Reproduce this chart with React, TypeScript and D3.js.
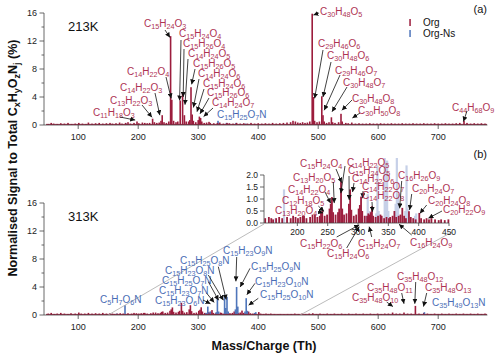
import React, { useEffect, useRef } from 'react';
import * as d3 from 'd3';

const W = 500, H = 358;
const RED = '#9c1d3d';
const RED_TXT = '#ae3353';
const BLUE = '#4f76bb';
const BLUE_TXT = '#4a6db5';
const PALE = '#c6d0e8';

// 213K spectrum, [mass/charge (Th), % of total signal]
const topOrg: [number, number][] = [
  [50, 0.15], [55, 0.3], [59, 0.2], [65, 0.15], [71, 0.25], [77, 0.2], [83, 0.3], [89, 0.15], [95, 0.2],
  [101, 0.3], [107, 0.2], [113, 0.15], [117, 0.35], [123, 0.2], [129, 0.25], [135, 0.3], [141, 0.2],
  [147, 0.25], [153, 0.3], [157, 0.2], [163, 0.25], [169, 0.35], [173, 0.2], [179, 0.3], [183, 0.4],
  [187, 0.2], [193, 0.3], [198, 0.5], [201, 0.25], [207, 0.35], [211, 0.3], [215, 0.25], [219, 0.3],
  [224, 0.9], [227, 0.4], [231, 0.3], [235, 0.35], [238, 0.6], [240, 1.4], [243, 0.4], [247, 0.3],
  [251, 0.5], [254, 12.7], [256, 3.6], [259, 0.6], [263, 0.4], [266, 0.5], [270, 3.5], [274, 4.6],
  [277, 1.4], [280, 0.5], [284, 0.5], [286, 0.7], [288, 5.4], [290, 1.5], [292, 0.6], [296, 0.4],
  [300, 0.7], [302, 1.2], [304, 1.0], [306, 0.5], [310, 0.3], [314, 0.35], [318, 0.45], [320, 0.3],
  [326, 0.25], [332, 0.3], [336, 0.35], [342, 0.2], [348, 0.3], [352, 0.25], [358, 0.2], [364, 0.3],
  [370, 0.2], [376, 0.25], [382, 0.2], [388, 0.3], [394, 0.2], [400, 0.25], [406, 0.2], [412, 0.25],
  [418, 0.2], [424, 0.3], [430, 0.2], [436, 0.25], [442, 0.3], [448, 0.35], [454, 0.4], [458, 0.6],
  [462, 0.5], [466, 0.35], [470, 0.3], [474, 0.4], [478, 0.3], [482, 0.35], [486, 0.5], [490, 15.9],
  [492, 4.0], [494, 0.6], [498, 0.4], [502, 0.5], [506, 4.1], [508, 1.4], [510, 0.5], [514, 0.3],
  [518, 0.4], [522, 1.1], [524, 0.4], [528, 0.3], [534, 0.4], [538, 1.6], [540, 0.5], [546, 0.3],
  [550, 0.25], [556, 0.35], [562, 0.2], [568, 0.25], [574, 0.2], [580, 0.2], [586, 0.25], [592, 0.2],
  [598, 0.2], [604, 0.25], [610, 0.2], [616, 0.2], [622, 0.25], [628, 0.2], [634, 0.2], [640, 0.25],
  [646, 0.2], [652, 0.2], [658, 0.25], [664, 0.2], [670, 0.2], [676, 0.25], [682, 0.2], [688, 0.2],
  [694, 0.25], [700, 0.2], [706, 0.2], [712, 0.25], [718, 0.2], [724, 0.2], [730, 0.25], [736, 0.3],
  [743, 0.6], [748, 0.3], [754, 0.2], [760, 0.25], [766, 0.2], [772, 0.25], [778, 0.2],
];
const topOrgN: [number, number][] = [
  [180, 0.2], [333, 0.6], [335, 0.3], [347, 0.3], [349, 0.2], [363, 0.3], [379, 0.2],
];

// 313K spectrum
const botOrg: [number, number][] = [
  [50, 0.2], [55, 0.3], [60, 0.15], [65, 0.2], [71, 0.3], [77, 0.2], [83, 0.15], [88, 0.25], [95, 0.2],
  [101, 0.35], [105, 0.2], [111, 0.2], [117, 0.3], [123, 0.2], [129, 0.25], [135, 0.2], [141, 0.3],
  [147, 0.2], [153, 0.25], [157, 0.2], [160, 0.15], [165, 0.2], [170, 0.25], [175, 0.2], [183, 0.25],
  [189, 0.2], [193, 0.3], [197, 0.25], [201, 0.2], [205, 0.25], [209, 0.3], [211, 0.3], [215, 0.2],
  [221, 0.25], [225, 0.35], [229, 0.35], [233, 0.25], [237, 0.3], [239, 0.45], [241, 0.5], [245, 0.3],
  [249, 0.35], [253, 0.6], [255, 0.8], [257, 1.08], [259, 0.45], [263, 0.35], [267, 0.45], [269, 0.6],
  [272, 1.73], [274, 0.6], [277, 0.35], [281, 0.4], [285, 0.8], [287, 1.4], [289, 0.55], [293, 0.3],
  [297, 0.35], [301, 0.6], [303, 0.75], [305, 1.1], [307, 0.5], [311, 0.3], [315, 0.3], [317, 0.4],
  [319, 0.35], [321, 0.45], [323, 0.7], [325, 0.3], [329, 0.25], [333, 0.3], [337, 0.35], [339, 0.3],
  [343, 0.2], [347, 0.25], [351, 0.2], [353, 0.25], [357, 0.3], [360, 0.5], [363, 0.25], [367, 0.3],
  [370, 0.35], [373, 0.63], [376, 0.3], [379, 0.2], [384, 0.49], [387, 0.25], [391, 0.2], [395, 0.15],
  [401, 0.42], [404, 0.2], [409, 0.15], [413, 0.2], [417, 0.15], [421, 0.2], [427, 0.15], [433, 0.12],
  [437, 0.15], [443, 0.12], [449, 0.15], [455, 0.15], [461, 0.2], [467, 0.15], [473, 0.2], [479, 0.15],
  [485, 0.2], [491, 0.25], [497, 0.15], [503, 0.2], [509, 0.15], [515, 0.2], [521, 0.15], [527, 0.2],
  [533, 0.15], [539, 0.2], [545, 0.15], [551, 0.2], [557, 0.15], [563, 0.2], [569, 0.15], [575, 0.2],
  [581, 0.15], [587, 0.2], [593, 0.15], [599, 0.2], [605, 0.15], [611, 0.2], [617, 0.2], [624, 0.35],
  [630, 0.2], [636, 0.2], [643, 0.35], [649, 0.2], [655, 0.2], [662, 1.3], [668, 0.2], [676, 0.3],
  [682, 0.2], [688, 0.15], [694, 0.2], [700, 0.15], [706, 0.2], [712, 0.15], [718, 0.2], [724, 0.15],
  [730, 0.2], [736, 0.15], [742, 0.2], [748, 0.15], [754, 0.2], [760, 0.15], [766, 0.2], [772, 0.15],
  [778, 0.2],
];
const botOrgN: [number, number][] = [
  [164, 0.2], [178, 1.4], [313, 0.3], [316, 1.2], [320, 0.5], [330, 0.4], [332, 2.4], [334, 0.5],
  [344, 2.9], [346, 1.0], [348, 2.6], [350, 0.5], [362, 0.8], [364, 4.0], [366, 1.2], [378, 0.5],
  [380, 2.4], [382, 0.6], [394, 0.3], [396, 0.4], [677, 0.4],
];

const yTicks = [0, 4, 8, 12, 16];
const yMinor = [2, 6, 10, 14];
const xTicks = [100, 200, 300, 400, 500, 600, 700];
const inYTicks = [0, 0.5, 1, 1.5, 2];
const inXTicks = [200, 250, 300, 350, 400, 450];

// [formula, arrow tip mass, arrow tip value] (tip mass null -> no arrow)
type Lab = [string, number | null, number];
const topLabels: Lab[] = [
  ['C15H24O3', 253, 12.5], ['C15H24O4', 269, 3.5], ['C15H26O4', 275, 4.0], ['C14H24O5', 278, 2.9],
  ['C15H26O5', 289, 5.8], ['C14H24O6', 292, 2.5], ['C15H24O6', 298, 1.9], ['C15H26O6', 303, 1.6],
  ['C14H24O7', 309, 1.2], ['C15H25O7N', null, 0], ['C14H22O4', 255, 3.8], ['C14H22O3', 236, 1.4],
  ['C13H22O3', 223, 1.1], ['C11H18O3', 195, 0.7], ['C30H48O5', 492, 15.7], ['C29H46O6', 494, 3.8],
  ['C30H48O6', 508, 4.0], ['C29H46O7', 510, 2.1], ['C30H48O7', 523, 1.9], ['C30H48O8', 539.5, 2.1],
  ['C30H50O8', 557, 1.0], ['C44H68O9', 742, 0.5],
];
const botLabels: Lab[] = [
  ['C5H7O6N', null, 0], ['C15H23O6N', 320.5, 1.6], ['C15H23O7N', 326.7, 1.8], ['C15H25O7N', 334, 2.1],
  ['C15H23O8N', 342, 2.1], ['C15H25O8N', 346.7, 2.2], ['C15H23O9N', 362.8, 4.8], ['C15H25O9N', 370, 4.0],
  ['C15H23O10N', 381, 2.9], ['C15H25O10N', 384, 1.4], ['C35H48O12', 661, 1.6], ['C35H48O11', 643, 1.6],
  ['C35H48O13', 675.5, 1.2], ['C35H48O10', 624.5, 1.2], ['C35H49O13N', null, 0],
];
const insetLabels: Lab[] = [
  ['C15H24O4', 273, 1.68], ['C14H22O5', 271.7, 1.24], ['C15H24O5', 285.5, 0.96], ['C13H20O5', 260.8, 0.83],
  ['C14H22O6', 291, 1.29], ['C14H22O4', 255, 0.82], ['C14H22O7', 307.7, 1.03], ['C12H18O5', 244, 0.48],
  ['C14H22O8', 324, 0.47], ['C13H20O4', 242.5, 0.42], ['C16H26O9', 368.6, 0.61], ['C20H24O7', 385, 0.54],
  ['C20H24O8', 402, 0.4], ['C20H22O9', 416, 0.2], ['C15H22O6', 302, -0.08], ['C15H24O7', 318.4, -0.15],
  ['C16H24O9', 367.6, -0.05], ['C15H24O6', 302, -0.15],
];

// label layout: text x, baseline y, arrow start x, arrow start y
const topPos: Record<string, number[]> = {
  C15H24O3: [144, 27, 165, 30], C15H24O4: [179, 37, 181, 40], C15H26O4: [183, 47, 184, 49],
  C14H24O5: [188, 57, 188, 59], C15H26O5: [193, 67, 195, 69], C14H24O6: [198, 77, 199, 79],
  C15H24O6: [203, 87, 204, 89], C15H26O6: [207, 96, 209, 98], C14H24O7: [212, 106, 213, 108],
  C15H25O7N: [217, 118, 0, 0], C14H22O4: [127, 75, 166, 77], C14H22O3: [120, 91, 155, 93],
  C13H22O3: [110, 104, 142, 105], C11H18O3: [93, 115.5, 120, 117], C30H48O5: [320, 15, 319, 13],
  C29H46O6: [318, 47, 323, 50], C30H48O6: [327, 59, 331, 62], C29H46O7: [335, 74, 340, 75],
  C30H48O7: [343, 86, 347, 87], C30H48O8: [352, 102, 352, 100], C30H50O8: [358, 114, 360, 113],
  C44H68O9: [452, 111, 467, 111],
};
const botPos: Record<string, number[]> = {
  C5H7O6N: [100, 303, 0, 0], C15H23O6N: [155, 304, 203, 300], C15H23O7N: [159, 294, 206.7, 293.3],
  C15H25O7N: [162, 284, 208.3, 281.7], C15H23O8N: [165, 274, 208.3, 275], C15H25O8N: [180, 264, 218.3, 266.7],
  C15H23O9N: [223, 254, 236.7, 257], C15H25O9N: [251, 270, 250, 268.3], C15H23O10N: [255, 285, 255, 283.3],
  C15H25O10N: [260, 298, 258.3, 298.3], C35H48O12: [397, 280, 415.7, 282], C35H48O11: [367, 291, 401.7, 293],
  C35H48O13: [425, 291, 426.7, 293], C35H48O10: [352, 301, 386.7, 302], C35H49O13N: [432, 306, 0, 0],
};
const insetPos: Record<string, number[]> = {
  C15H24O4: [300, 166.5, 336, 169], C14H22O5: [347, 165.5, 345, 166], C15H24O5: [348, 173.5, 349, 176],
  C13H20O5: [293, 180.5, 333.3, 182], C14H22O6: [352, 181.5, 354, 183], C14H22O4: [288, 192.5, 325, 192],
  C14H22O7: [362, 190, 363, 191], C12H18O5: [282, 203.5, 318.3, 206], C14H22O8: [362, 198.5, 372, 202],
  C13H20O4: [275, 213.5, 318, 211.5], C16H26O9: [398, 178.5, 401.7, 181], C20H24O7: [412, 191.5, 411.7, 194],
  C20H24O8: [428, 203.5, 426.7, 205], C20H22O9: [443, 212.5, 442, 211], C15H22O6: [300, 246.5, 336.7, 237],
  C15H24O7: [358, 246.5, 371.7, 237], C16H24O9: [410, 245.5, 411.7, 235], C15H24O6: [327, 256.5, 346.7, 248],
};

function formula(g: any, s: string, x: number, y: number, color: string, size = 10) {
  const t = g.append('text').attr('x', x).attr('y', y).attr('fill', color).style('font-size', size + 'px');
  const parts = s.match(/[A-Z][a-z]?|\d+/g) || [];
  let sub = false;
  parts.forEach((p) => {
    const num = /\d/.test(p);
    const ts = t.append('tspan').text(p);
    if (num) {
      ts.style('font-size', size * 0.72 + 'px');
      if (!sub) { ts.attr('dy', 2.2); sub = true; }
    } else if (sub) {
      ts.attr('dy', -2.2); sub = false;
    }
  });
}

export default function App() {
  const ref = useRef<SVGSVGElement>(null);

  useEffect(() => {
    const svg = d3.select(ref.current);
    svg.selectAll('*').remove();

    const xMain = d3.scaleLinear().domain([43, 782]).range([44, 487.4]);
    const yTop = d3.scaleLinear().domain([0, 16]).range([125, 13]);
    const yBot = d3.scaleLinear().domain([0, 16]).range([315, 203]);
    const xIn = d3.scaleLinear().domain([145, 450]).range([264, 449]);
    const yIn = d3.scaleLinear().domain([0, 2]).range([223, 175]);

    const defs = svg.append('defs');
    defs.append('marker').attr('id', 'ah').attr('viewBox', '0 0 10 10').attr('refX', 10).attr('refY', 5)
      .attr('markerWidth', 5).attr('markerHeight', 5).attr('markerUnits', 'userSpaceOnUse').attr('orient', 'auto')
      .append('path').attr('d', 'M0,0 L10,5 L0,10 z').attr('fill', '#111');
    defs.append('clipPath').attr('id', 'inclip').append('rect')
      .attr('x', 264).attr('y', 158).attr('width', 186).attr('height', 65);

    const bars = (g: any, data: [number, number][], xs: any, ys: any, color: string, w = 1.6) => {
      g.selectAll(null).data(data).enter().append('rect')
        .attr('x', (d: any) => xs(d[0]) - w / 2).attr('width', w)
        .attr('y', (d: any) => ys(d[1])).attr('height', (d: any) => ys(0) - ys(d[1]))
        .attr('fill', color);
    };

    const axes = (ys: any) => {
      const g = svg.append('g').attr('stroke', '#444').attr('stroke-width', 0.8);
      const [y0, y1] = ys.range();
      g.append('line').attr('x1', 44).attr('x2', 44).attr('y1', y0).attr('y2', y1);
      g.append('line').attr('x1', 44).attr('x2', 487.4).attr('y1', y0).attr('y2', y0);
      yTicks.forEach((t) => g.append('line').attr('x1', 39.5).attr('x2', 44).attr('y1', ys(t)).attr('y2', ys(t)));
      yMinor.forEach((t) => g.append('line').attr('x1', 41.5).attr('x2', 44).attr('y1', ys(t)).attr('y2', ys(t)));
      xTicks.forEach((t) => g.append('line').attr('x1', xMain(t)).attr('x2', xMain(t)).attr('y1', y0).attr('y2', y0 + 4));
      const tg = svg.append('g').attr('fill', '#222').style('font-size', '9px');
      yTicks.forEach((t) => tg.append('text').attr('x', 37).attr('y', ys(t) + 3.2).attr('text-anchor', 'end').text(t));
      xTicks.forEach((t) => tg.append('text').attr('x', xMain(t)).attr('y', y0 + 15).attr('text-anchor', 'middle').text(t));
    };

    // top panel (213K)
    const gTop = svg.append('g');
    bars(gTop, topOrgN, xMain, yTop, BLUE);
    bars(gTop, topOrg, xMain, yTop, RED);
    axes(yTop);
    gTop.append('line').attr('x1', 46).attr('x2', 487).attr('y1', 124.4).attr('y2', 124.4).attr('stroke', RED).attr('stroke-width', 1);

    // bottom panel (313K)
    const gBot = svg.append('g');
    bars(gBot, botOrg, xMain, yBot, RED);
    bars(gBot, botOrgN, xMain, yBot, BLUE);
    axes(yBot);
    gBot.append('line').attr('x1', 46).attr('x2', 487).attr('y1', 314.4).attr('y2', 314.4).attr('stroke', RED).attr('stroke-width', 1);

    // zoom lines to the inset
    const zl = svg.append('g').attr('stroke', '#aaa').attr('stroke-width', 0.8);
    zl.append('line').attr('x1', xMain(150)).attr('y1', yBot(0)).attr('x2', xIn(145)).attr('y2', yIn(0) + 1);
    zl.append('line').attr('x1', xMain(470)).attr('y1', yBot(0)).attr('x2', xIn(450) + 3).attr('y2', yIn(0) + 9);

    // inset
    const gIn = svg.append('g');
    gIn.append('rect').attr('x', 264).attr('y', 158).attr('width', 186).attr('height', 65).attr('fill', 'white');
    const gInBars = gIn.append('g').attr('clip-path', 'url(#inclip)');
    bars(gInBars, botOrgN, xIn, yIn, PALE, 2.2);
    bars(gInBars, botOrg, xIn, yIn, RED, 1.8);
    const ia = gIn.append('g').attr('stroke', '#444').attr('stroke-width', 0.8);
    ia.append('line').attr('x1', 264).attr('x2', 264).attr('y1', 223).attr('y2', 175);
    ia.append('line').attr('x1', 264).attr('x2', 449).attr('y1', 223).attr('y2', 223);
    inYTicks.forEach((t) => ia.append('line').attr('x1', 260).attr('x2', 264).attr('y1', yIn(t)).attr('y2', yIn(t)));
    inXTicks.forEach((t) => ia.append('line').attr('x1', xIn(t)).attr('x2', xIn(t)).attr('y1', 223).attr('y2', 226));
    const it = gIn.append('g').attr('fill', '#222').style('font-size', '8.5px');
    inYTicks.forEach((t) => it.append('text').attr('x', 258).attr('y', yIn(t) + 3).attr('text-anchor', 'end').text(t.toFixed(1)));
    inXTicks.forEach((t) => it.append('text').attr('x', xIn(t)).attr('y', 235).attr('text-anchor', 'middle').text(t));

    // labels and arrows
    const gl = svg.append('g');
    const drawLabels = (labs: Lab[], pos: Record<string, number[]>, xs: any, ys: any) => {
      labs.forEach(([f, m, v]) => {
        const p = pos[f];
        const col = f.endsWith('N') ? BLUE_TXT : RED_TXT;
        formula(gl, f, p[0], p[1], col);
        if (m !== null) {
          gl.append('line').attr('x1', p[2]).attr('y1', p[3]).attr('x2', xs(m)).attr('y2', ys(v))
            .attr('stroke', '#111').attr('stroke-width', 0.8).attr('marker-end', 'url(#ah)');
        }
      });
    };
    drawLabels(topLabels, topPos, xMain, yTop);
    drawLabels(botLabels, botPos, xMain, yBot);
    drawLabels(insetLabels, insetPos, xIn, yIn);

    // text
    svg.append('text').attr('x', 68).attr('y', 31).style('font-size', '13px').attr('fill', '#111').text('213K');
    svg.append('text').attr('x', 68).attr('y', 221).style('font-size', '13px').attr('fill', '#111').text('313K');
    svg.append('text').attr('x', 487).attr('y', 13).attr('text-anchor', 'end').style('font-size', '11px').attr('fill', '#111').text('(a)');
    svg.append('text').attr('x', 487).attr('y', 158).attr('text-anchor', 'end').style('font-size', '11px').attr('fill', '#111').text('(b)');

    // legend
    const lg = svg.append('g').style('font-size', '10px').attr('fill', '#111');
    lg.append('rect').attr('x', 409.3).attr('y', 19).attr('width', 1.5).attr('height', 7).attr('fill', RED);
    lg.append('text').attr('x', 423).attr('y', 26).text('Org');
    lg.append('rect').attr('x', 409.3).attr('y', 30).attr('width', 1.5).attr('height', 7).attr('fill', BLUE);
    lg.append('text').attr('x', 423).attr('y', 37).text('Org-Ns');

    // axis titles
    svg.append('text').attr('x', 264).attr('y', 350).attr('text-anchor', 'middle')
      .style('font-size', '12.5px').style('font-weight', 'bold').attr('fill', '#111').text('Mass/Charge (Th)');
    const yl = svg.append('text').attr('transform', 'translate(17,158) rotate(-90)').attr('text-anchor', 'middle')
      .style('font-size', '12.5px').style('font-weight', 'bold').attr('fill', '#111');
    const parts: [string, boolean][] = [
      ['Normalised Signal to Total C', false], ['x', true], ['H', false], ['y', true],
      ['O', false], ['z', true], ['N', false], ['j', true], [' (%)', false],
    ];
    parts.forEach(([s, sub], i) => {
      yl.append('tspan').text(s).attr('dy', sub ? 3 : (i === 0 ? 0 : -3))
        .style('font-size', sub ? '9px' : '12.5px');
    });
  }, []);

  return (
    <svg ref={ref} width={W} height={H}
      style={{ position: 'absolute', left: 0, top: 0, background: 'white', fontFamily: 'Liberation Sans, Arial, sans-serif' }} />
  );
}
